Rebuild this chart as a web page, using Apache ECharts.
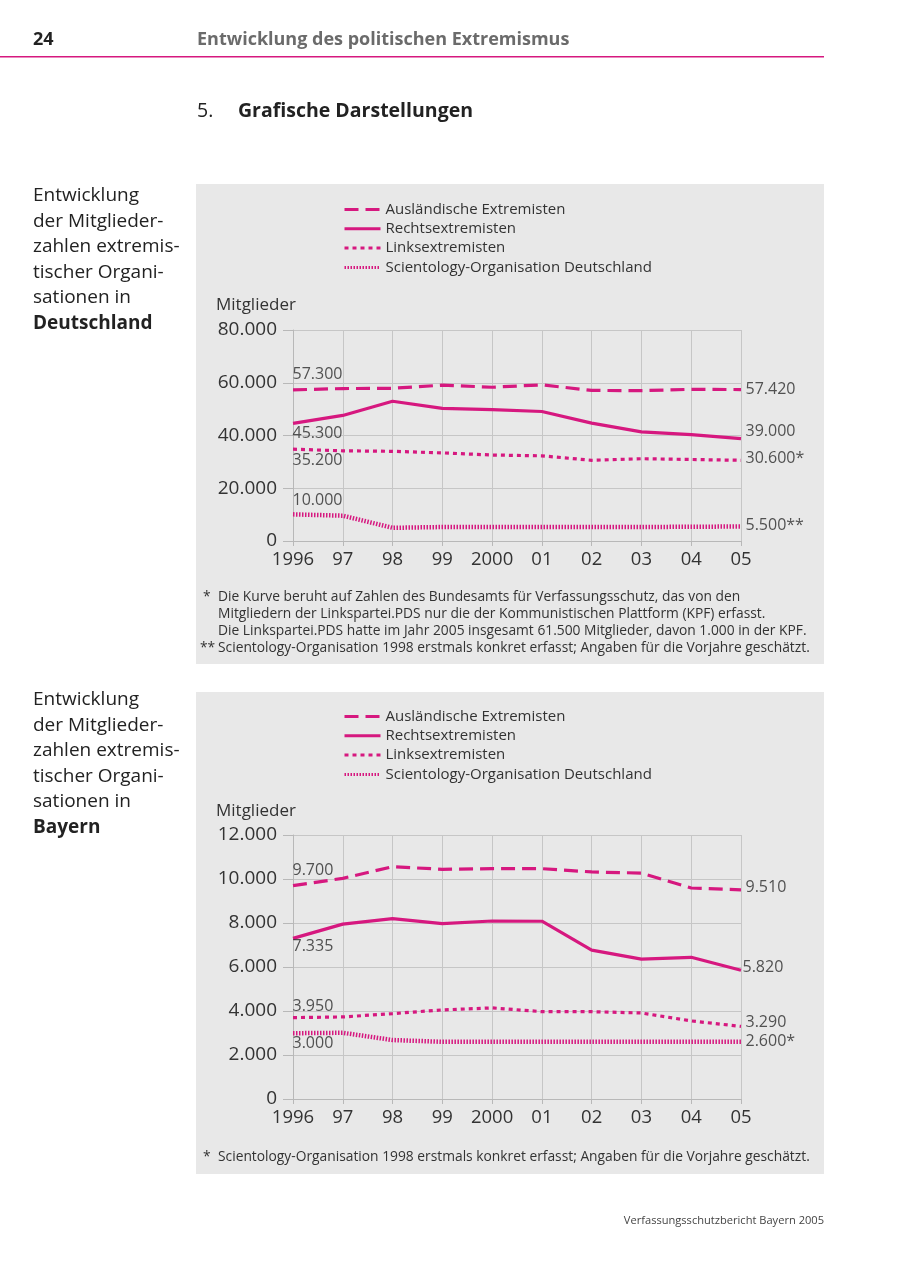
<!DOCTYPE html>
<html><head><meta charset="utf-8">
<script src="https://cdn.jsdelivr.net/npm/echarts@6/dist/echarts.min.js"></script>
<style>html,body{margin:0;padding:0;background:#fff}#c{width:900px;height:1272px}</style>
</head><body><div id="c"></div>
<script>
// ---------- data ----------
const years = ['1996','97','98','99','2000','01','02','03','04','05'];
const seriesNames = ['Ausländische Extremisten','Rechtsextremisten','Linksextremisten','Scientology-Organisation Deutschland'];

// Deutschland
const deAusl    = [57300,57800,57900,59100,58300,59200,57100,57000,57500,57420];
const deRechts  = [44600,47600,53000,50300,49800,49100,44700,41400,40300,38800];
const deLinks   = [34800,34200,34000,33400,32600,32300,30600,31200,30900,30600];
const deScient  = [10100,9600,5000,5300,5300,5300,5300,5300,5400,5500];
const deStartLabels = ['57.300','45.300','35.200','10.000'];
const deEndLabels   = ['57.420','39.000','30.600*','5.500**'];
const deYTicks = [0,20000,40000,60000,80000];

// Bayern
const byAusl    = [9700,10030,10560,10440,10470,10470,10320,10270,9590,9510];
const byRechts  = [7300,7950,8200,7970,8090,8080,6770,6360,6440,5850];
const byLinks   = [3700,3730,3880,4050,4140,3970,3970,3910,3550,3300];
const byScient  = [2990,3010,2680,2600,2600,2600,2600,2600,2600,2600];
const byStartLabels = ['9.700','7.335','3.950','3.000'];
const byEndLabels   = ['9.510','5.820','3.290','2.600*'];
const byYTicks = [0,2000,4000,6000,8000,10000,12000];

// ---------- styles ----------
const MAG = '#d6187f';
const FONT = '"Open Sans", "Noto Sans", sans-serif';
const TXT = '#333';
const lineTypes = [
  {type:[14,7], width:3.2},
  {type:'solid', width:3.2},
  {type:[4,4], width:3.2},
  {type:[1.5,1.5], width:4.5}
];
// label offsets [dx, dy] for start/end labels per series and chart
const deStartOff = [[0,-15],[0,11],[0,12],[0,-13]];
const deEndOff   = [[5,0],[5,-7],[5,-1],[5,-1]];
const byStartOff = [[0,-15],[0,9],[0,-11],[0,11]];
const byEndOff   = [[5,-2],[2,-2],[5,-3],[5,0]];

function fmt(v){ return String(v).replace(/\B(?=(\d{3})+(?!\d))/g,'.'); }

function buildSeries(gi, data, startLabels, endLabels, sOff, eOff){
  const out = [];
  data.forEach((d,i)=>{
    out.push({
      type:'line', name: seriesNames[i], xAxisIndex:gi, yAxisIndex:gi,
      data:d, symbol:'none', smooth:false,
      lineStyle:{color:MAG, width:lineTypes[i].width, type:lineTypes[i].type, cap:'butt'},
      itemStyle:{color:MAG}, z:3, animation:false
    });
    const n = d.length-1;
    out.push({
      type:'scatter', name:'lab'+gi+'_'+i, xAxisIndex:gi, yAxisIndex:gi,
      symbolSize:1, itemStyle:{color:'rgba(0,0,0,0)'}, silent:true, animation:false, z:4,
      data:[
        {value:[0,d[0]], label:{show:true, formatter:startLabels[i], position:[sOff[i][0], sOff[i][1]]}},
        {value:[n,d[n]], label:{show:true, formatter:endLabels[i], position:[eOff[i][0], eOff[i][1]]}}
      ],
      label:{fontFamily:FONT, fontSize:16, color:'#2a2a2a', align:'left', verticalAlign:'middle'}
    });
  });
  return out;
}

function xAxis(gi){
  return {gridIndex:gi, type:'category', data:years, boundaryGap:false,
    axisLine:{show:true, lineStyle:{color:'#b8b8b8', width:1}},
    axisTick:{show:true, length:5, lineStyle:{color:'#b8b8b8'}},
    axisLabel:{fontFamily:FONT, fontSize:18.5, color:TXT, margin:9, interval:0},
    splitLine:{show:true, lineStyle:{color:'#c6c6c6', width:1}}};
}
function yAxis(gi, ticks){
  return {gridIndex:gi, type:'value', min:ticks[0], max:ticks[ticks.length-1], interval:ticks[1]-ticks[0],
    axisLine:{show:true, lineStyle:{color:'#b8b8b8', width:1}},
    axisTick:{show:true, length:10, lineStyle:{color:'#b8b8b8'}},
    axisLabel:{fontFamily:FONT, fontSize:19, color:TXT, margin:16, formatter:fmt},
    splitLine:{show:true, lineStyle:{color:'#c6c6c6', width:1}}};
}

function legend(top){
  return {orient:'vertical', left:338, top:top, data:seriesNames, itemWidth:36, itemHeight:14, itemGap:0.3,
    selectedMode:false,
    itemStyle:{opacity:0, borderWidth:0},
    lineStyle:{width:3},
    textStyle:{fontFamily:FONT, fontSize:15, color:TXT, lineHeight:19, padding:[0,0,0,0]}};
}

function t(x,y,text,opt){
  return Object.assign({type:'text', x:x, y:y, silent:true, z:10,
    style:Object.assign({text:text, fill:TXT, fontFamily:FONT, fontSize:18, verticalAlign:'middle', align:'left'}, (opt||{}))});
}

const sideLines1 = ['Entwicklung','der Mitglieder-','zahlen extremis-','tischer Organi-','sationen in'];
const graphics = [
  {type:'rect', shape:{x:196,y:184,width:628,height:480}, style:{fill:'#e8e8e8'}, z:-10, silent:true},
  {type:'rect', shape:{x:196,y:692,width:628,height:482}, style:{fill:'#e8e8e8'}, z:-10, silent:true},
  {type:'rect', shape:{x:0,y:56,width:824,height:1.6}, style:{fill:MAG}, silent:true},
  t(33,40,'24',{fontWeight:'bold', fill:'#222', fontSize:18}),
  t(197,40,'Entwicklung des politischen Extremismus',{fontWeight:'bold', fill:'#6b6b6b', fontSize:18}),
  t(197,111,'5.',{fontSize:19.5, fill:'#222'}),
  t(238,111,'Grafische Darstellungen',{fontWeight:'bold', fontSize:19.5, fill:'#222'}),
  t(216,305,'Mitglieder',{fontSize:17}),
  t(216,811,'Mitglieder',{fontSize:17}),
  t(824,1221,'Verfassungsschutzbericht Bayern 2005',{fontSize:11.1, align:'right', fill:'#444'})
];
sideLines1.forEach((s,i)=>{
  graphics.push(t(33,196+i*25.5,s,{fontSize:19, fill:'#222'}));
  graphics.push(t(33,700+i*25.5,s,{fontSize:19, fill:'#222'}));
});
graphics.push(t(33,196+5*25.5,'Deutschland',{fontSize:19, fill:'#222', fontWeight:'bold'}));
graphics.push(t(33,700+5*25.5,'Bayern',{fontSize:19, fill:'#222', fontWeight:'bold'}));

const fn1 = [
  ['*','Die Kurve beruht auf Zahlen des Bundesamts für Verfassungsschutz, das von den'],
  ['','Mitgliedern der Linkspartei.PDS nur die der Kommunistischen Plattform (KPF) erfasst.'],
  ['','Die Linkspartei.PDS hatte im Jahr 2005 insgesamt 61.500 Mitglieder, davon 1.000 in der KPF.'],
  ['**','Scientology-Organisation 1998 erstmals konkret erfasst; Angaben für die Vorjahre geschätzt.']
];
fn1.forEach((r,i)=>{
  const y = 597 + i*17;
  if(r[0]) graphics.push(t(r[0]==='*'?203:200, y, r[0], {fontSize:13.8}));
  graphics.push(t(218, y, r[1], {fontSize:13.8}));
});
graphics.push(t(203,1157,'*',{fontSize:13.8}));
graphics.push(t(218,1157,'Scientology-Organisation 1998 erstmals konkret erfasst; Angaben für die Vorjahre geschätzt.',{fontSize:13.8}));

const chart = echarts.init(document.getElementById('c'), null, {renderer:'canvas'});
chart.setOption({
  backgroundColor:'#ffffff',
  animation:false,
  textStyle:{fontFamily:FONT},
  grid:[
    {left:293, width:448, top:330, height:211, containLabel:false},
    {left:293, width:448, top:835, height:264, containLabel:false}
  ],
  xAxis:[xAxis(0), xAxis(1)],
  yAxis:[yAxis(0, deYTicks), yAxis(1, byYTicks)],
  legend:[legend(195), legend(702)],
  graphic:graphics,
  series:[].concat(
    buildSeries(0,[deAusl,deRechts,deLinks,deScient],deStartLabels,deEndLabels,deStartOff,deEndOff),
    buildSeries(1,[byAusl,byRechts,byLinks,byScient],byStartLabels,byEndLabels,byStartOff,byEndOff)
  )
});
</script></body></html>
